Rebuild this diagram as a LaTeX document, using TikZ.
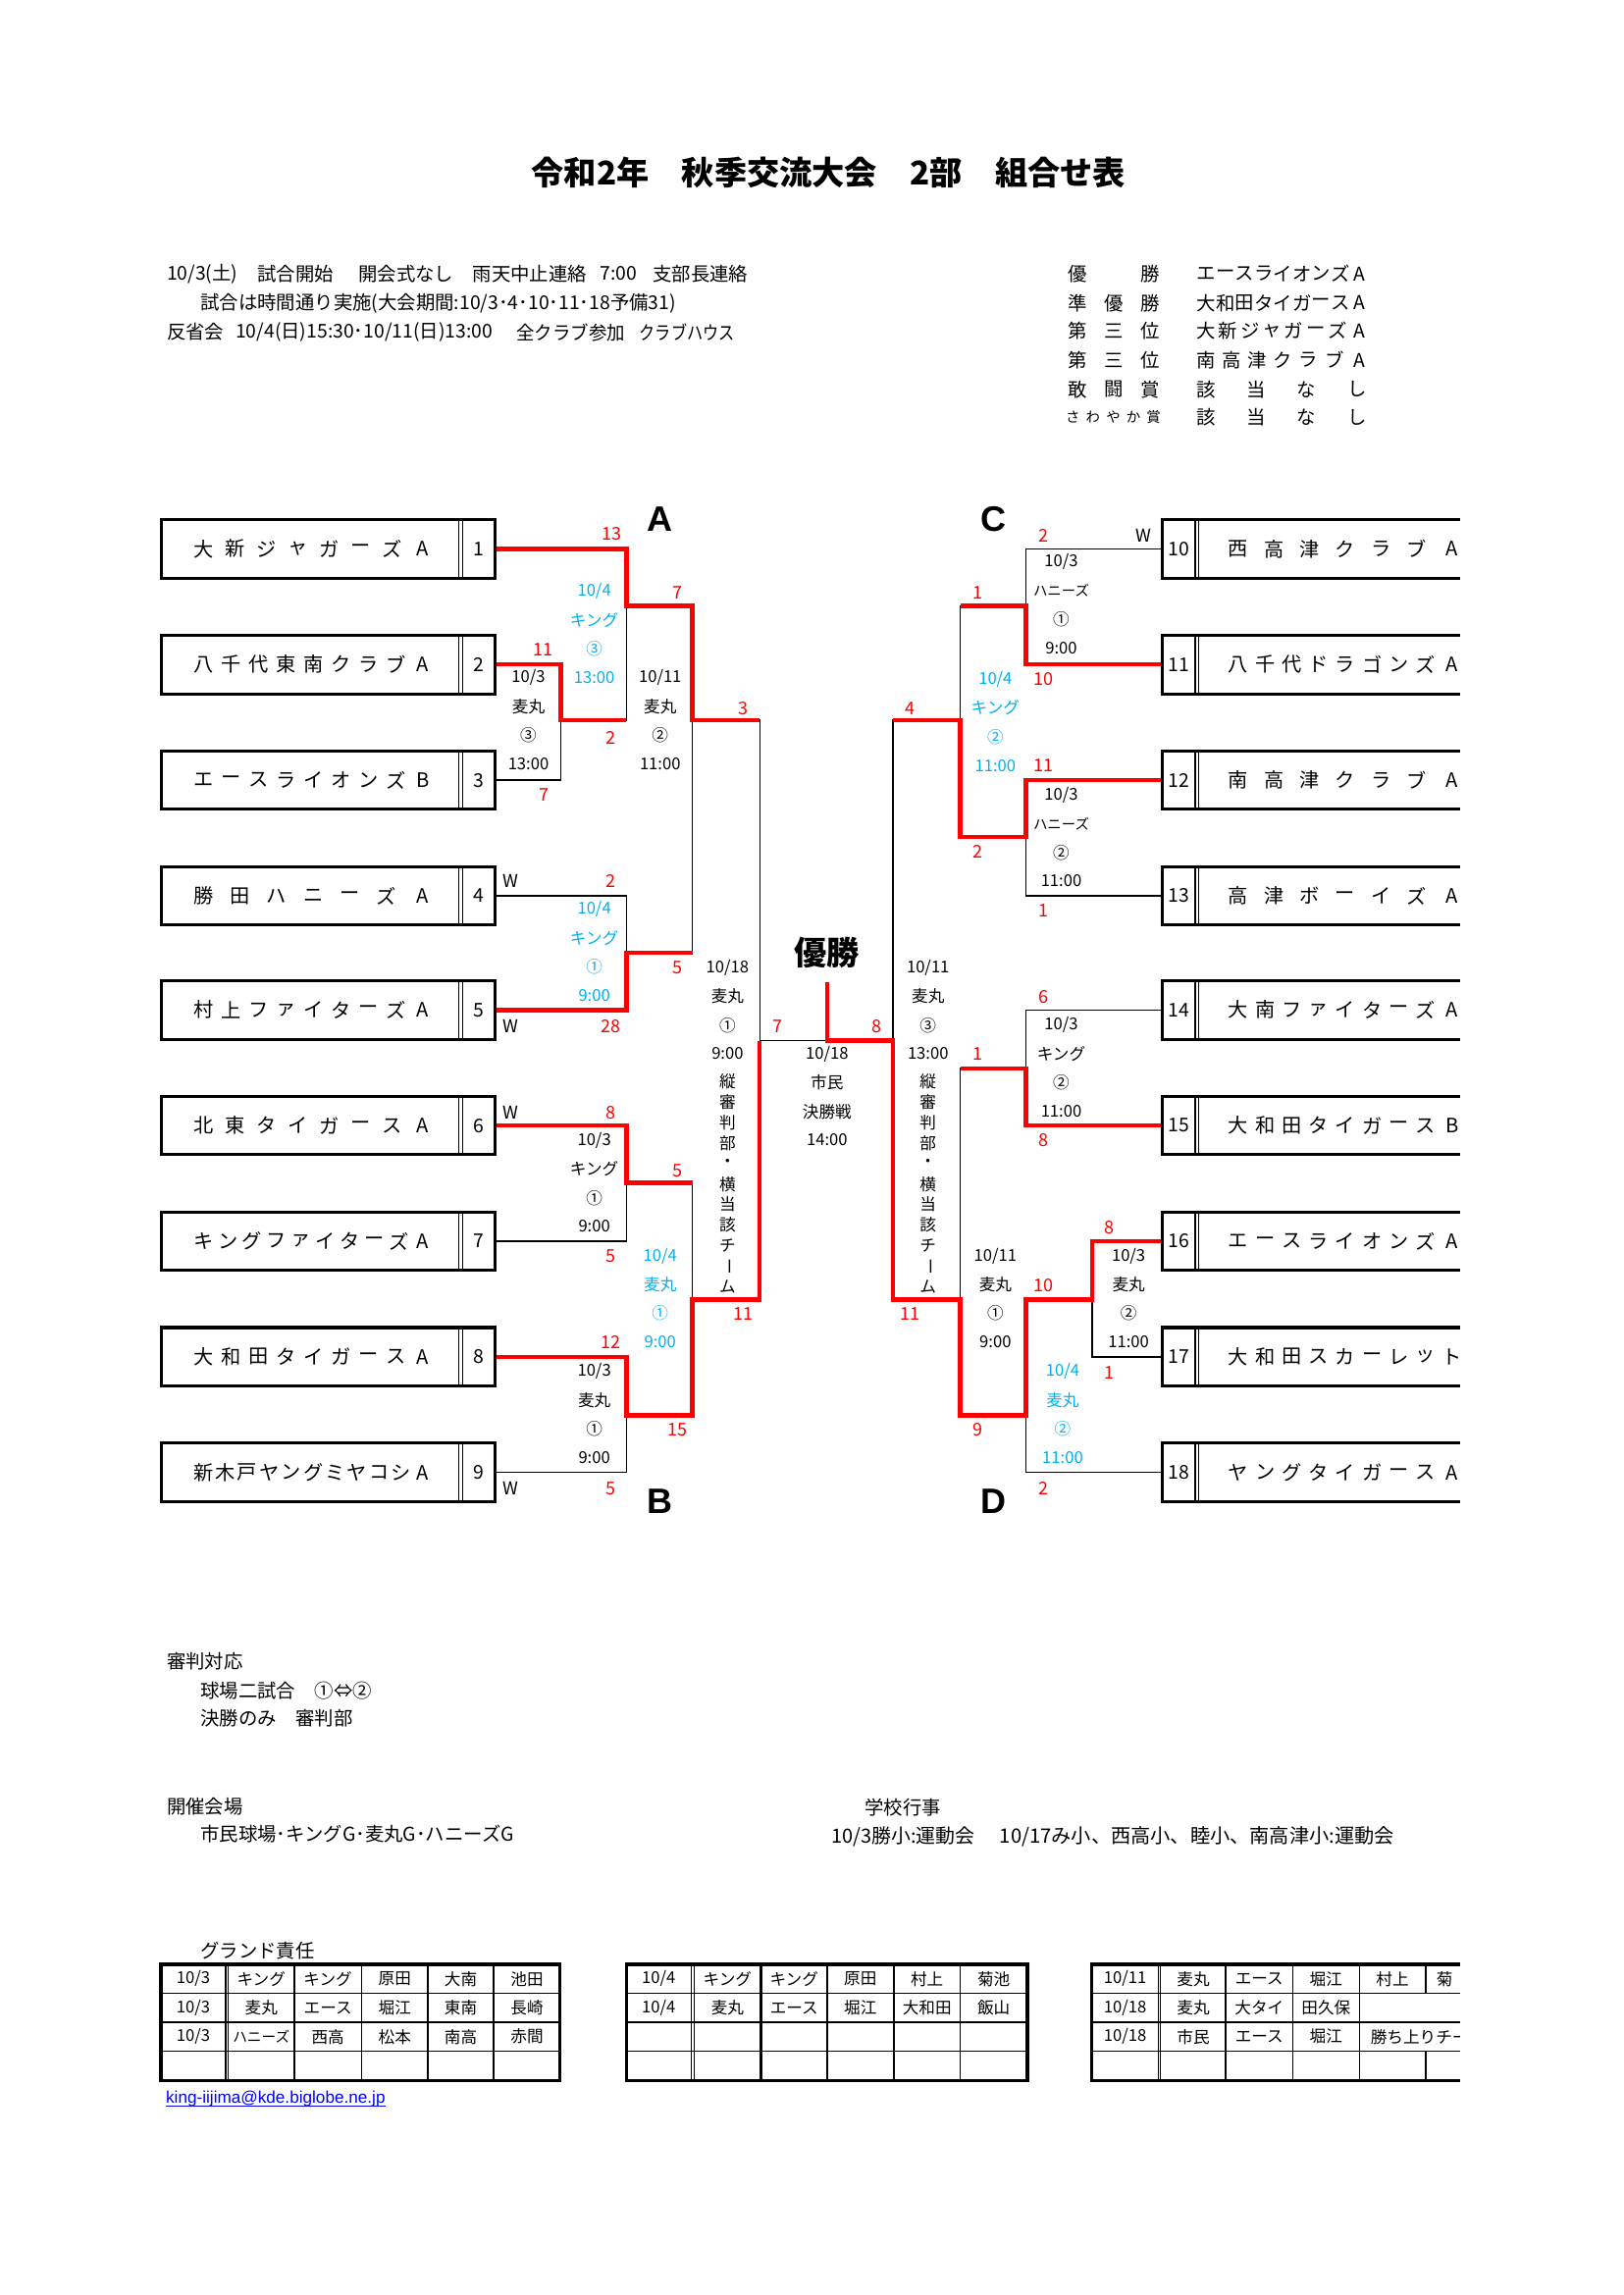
\documentclass[tikz,border=0pt]{standalone}
\usepackage{fontspec}
\setmainfont{Noto Sans CJK JP}
\newfontfamily\lat{Liberation Sans}
\definecolor{myred}{RGB}{255,0,0}
\definecolor{myblue}{RGB}{0,176,240}
\definecolor{linkblue}{RGB}{0,0,255}
\newcommand\fs[1]{\fontsize{#1}{#1}\selectfont}
\newcommand\distr[6]{\foreach \ch [count=\ii] in {#6}{\pgfmathsetmacro\xx{#1+(\ii-1)*(#2-#1)/(#4-1)}\node[#5] (d-\ii-#3) at (\xx,#3) {\ch};}}
\newcommand\lteam[4]{%
 \draw[boxl] (110,#1-20) rectangle (338,#1+20);
 \draw[dbl] (313.5,#1-20)--(313.5,#1+20) (316,#1-20)--(316,#1+20);
 \node[num] (L#2) at (327,#1) {#2};
 \distr{139}{289}{#1}{#3}{nm}{#4}}
\newcommand\rteam[4]{%
 \draw[boxl] (1005,#1-20) -- (794,#1-20) -- (794,#1+20) -- (1005,#1+20);
 \draw[dbl] (816.5,#1-20)--(816.5,#1+20) (819,#1-20)--(819,#1+20);
 \node[num] (R#2) at (805.5,#1) {#2};
 \distr{846}{992}{#1}{#3}{nm}{#4}}
\newcommand\mlab[7]{%
 \node[#3] (m-#1-#2a) at (#1,#2) {#4};
 \node[#3] (m-#1-#2b) at (#1,#2+19.7) {#5};
 \node[#3] (m-#1-#2c) at (#1,#2+39.4) {#6};
 \node[#3] (m-#1-#2d) at (#1,#2+59) {#7};}
\newcommand\vtext[2]{%
 \foreach \ch/\r [count=\ii] in {縦/0,審/0,判/0,部/0,・/0,横/0,当/0,該/0,チ/0,ー/-90,ム/0}{%
  \node[lab,rotate=\r] (v-#1-\ii) at (#1,#2+\ii*14-14) {\ch};}}
\begin{document}
\begin{tikzpicture}[x=0.18936mm,y=-0.18936mm,
  txt/.style={inner sep=0,outer sep=0,font=\fs{7}},
  nm/.style={inner sep=0,font=\fs{7.3}},
  num/.style={inner sep=0,font=\fs{7}},
  lab/.style={inner sep=0,font=\fs{6}},
  labs/.style={inner sep=0,font=\fs{5.2}},
  bl/.style={lab,text=myblue},
  sc/.style={inner sep=0,font=\fs{6.5},text=myred},
  wl/.style={inner sep=0,font=\fs{6.5}},
  tt/.style={inner sep=0,font=\fs{6}},
  thinl/.style={line width=0.5pt,black},
  redl/.style={line width=1.6pt,myred,line join=miter},
  boxl/.style={line width=1.1pt,line join=miter},
  dbl/.style={line width=0.4pt},
  grid/.style={line width=0.5pt},
  outer/.style={line width=1.2pt,line join=miter},
  letter/.style={inner sep=0,font=\lat\bfseries\fontsize{13}{13}\selectfont},
]
\useasboundingbox[fill=white] (0,0) rectangle (1109,1568);

% title
\node[inner sep=0,font=\bfseries\fs{12}] (title) at (566,118) {令和2年　秋季交流大会　2部　組合せ表};

% info lines
\node[txt,anchor=west] (i1a) at (114,187) {10/3(土)};
\node[txt,anchor=west] (i1b) at (176,187) {試合開始};
\node[txt,anchor=west] (i1c) at (245,187) {開会式なし};
\node[txt,anchor=west] (i1d) at (323,187) {雨天中止連絡};
\node[txt,anchor=west] (i1e) at (410,187) {7:00};
\node[txt,anchor=west] (i1f) at (446,187) {支部長連絡};
\node[txt,anchor=west] (i2) at (137,207) {試合は時間通り実施(大会期間:10/3･4･10･11･18予備31)};
\node[txt,anchor=west] (i3a) at (114,227) {反省会};
\node[txt,anchor=west] (i3b) at (161,227) {10/4(日)15:30･10/11(日)13:00};
\node[txt,anchor=west] (i3c) at (353,227) {\scalebox{0.95}[1]{全クラブ参加}};
\node[txt,anchor=west] (i3d) at (437,227) {\scalebox{0.83}[1]{クラブハウス}};

% awards
\distr{736}{786}{187}{2}{txt}{優,勝}
\distr{736}{786}{207}{3}{txt}{準,優,勝}
\distr{736}{786}{226}{3}{txt}{第,三,位}
\distr{736}{786}{246}{3}{txt}{第,三,位}
\distr{736}{786}{266}{3}{txt}{敢,闘,賞}
\distr{733}{788}{285}{5}{labs}{さ,わ,や,か,賞}
\distr{824}{929}{187}{9}{txt}{エ,ー,ス,ラ,イ,オ,ン,ズ,A}
\distr{824}{929}{207}{9}{txt}{大,和,田,タ,イ,ガ,ー,ス,A}
\distr{824}{929}{226}{8}{txt}{大,新,ジ,ャ,ガ,ー,ズ,A}
\distr{824}{929}{246}{7}{txt}{南,高,津,ク,ラ,ブ,A}
\distr{824}{927}{266}{4}{txt}{該,当,な,し}
\distr{824}{927}{285}{4}{txt}{該,当,な,し}

% thin bracket lines
\draw[thinl] (338,375) -- (428,375) -- (428,492) -- (383,492);
\draw[thinl] (338,454) -- (383,454) -- (383,533) -- (338,533);
\draw[thinl] (428,414) -- (473,414) -- (473,651) -- (428,651);
\draw[thinl] (338,612) -- (428,612) -- (428,690) -- (338,690);
\draw[thinl] (473,492) -- (519,492) -- (519,888) -- (473,888);
\draw[thinl] (519,711) -- (565,711);
\draw[thinl] (338,769) -- (428,769) -- (428,848) -- (338,848);
\draw[thinl] (428,808) -- (473,808) -- (473,967) -- (428,967);
\draw[thinl] (338,927) -- (428,927) -- (428,1006) -- (338,1006);
\draw[thinl] (794,375) -- (701,375) -- (701,454) -- (794,454);
\draw[thinl] (701,414) -- (656,414) -- (656,572) -- (701,572);
\draw[thinl] (794,533) -- (701,533) -- (701,612) -- (794,612);
\draw[thinl] (656,492) -- (610,492) -- (610,888) -- (656,888);
\draw[thinl] (610,711) -- (565,711);
\draw[thinl] (794,690) -- (701,690) -- (701,769) -- (794,769);
\draw[thinl] (701,730) -- (656,730) -- (656,967) -- (701,967);
\draw[thinl] (794,848) -- (746,848) -- (746,927) -- (794,927);
\draw[thinl] (746,888) -- (701,888) -- (701,1006) -- (794,1006);

% red winner lines
\draw[redl] (338,375) -- (428,375) -- (428,414) -- (473,414) -- (473,492) -- (519,492);
\draw[redl] (338,454) -- (383,454) -- (383,492) -- (428,492);
\draw[redl] (338,690) -- (428,690) -- (428,651) -- (473,651);
\draw[redl] (338,769) -- (428,769) -- (428,808) -- (473,808);
\draw[redl] (338,927) -- (428,927) -- (428,967) -- (473,967) -- (473,888) -- (519,888) -- (519,711);
\draw[redl] (794,454) -- (701,454) -- (701,414) -- (656,414);
\draw[redl] (794,533) -- (701,533) -- (701,572) -- (656,572) -- (656,492) -- (610,492);
\draw[redl] (794,769) -- (701,769) -- (701,730) -- (656,730);
\draw[redl] (794,848) -- (746,848) -- (746,888) -- (701,888) -- (701,967) -- (656,967) -- (656,888) -- (610,888) -- (610,711) -- (565,711) -- (565,671);

% left teams
\lteam{375}{1}{8}{大,新,ジ,ャ,ガ,ー,ズ,A}
\lteam{454}{2}{9}{八,千,代,東,南,ク,ラ,ブ,A}
\lteam{533}{3}{9}{エ,ー,ス,ラ,イ,オ,ン,ズ,B}
\lteam{612}{4}{7}{勝,田,ハ,ニ,ー,ズ,A}
\lteam{690}{5}{9}{村,上,フ,ァ,イ,タ,ー,ズ,A}
\lteam{769}{6}{8}{北,東,タ,イ,ガ,ー,ス,A}
\lteam{848}{7}{10}{キ,ン,グ,フ,ァ,イ,タ,ー,ズ,A}
\lteam{927}{8}{9}{大,和,田,タ,イ,ガ,ー,ス,A}
\lteam{1006}{9}{11}{新,木,戸,ヤ,ン,グ,ミ,ヤ,コ,シ,A}

% right teams and table 3 (clipped at page content edge)
\begin{scope}
\clip (0,0) rectangle (997.5,1568);
\rteam{375}{10}{7}{西,高,津,ク,ラ,ブ,A}
\rteam{454}{11}{9}{八,千,代,ド,ラ,ゴ,ン,ズ,A}
\rteam{533}{12}{7}{南,高,津,ク,ラ,ブ,A}
\rteam{612}{13}{7}{高,津,ボ,ー,イ,ズ,A}
\rteam{690}{14}{9}{大,南,フ,ァ,イ,タ,ー,ズ,A}
\rteam{769}{15}{9}{大,和,田,タ,イ,ガ,ー,ス,B}
\rteam{848}{16}{9}{エ,ー,ス,ラ,イ,オ,ン,ズ,A}
\rteam{927}{17}{9}{大,和,田,ス,カ,ー,レ,ッ,ト}
\rteam{1006}{18}{9}{ヤ,ン,グ,タ,イ,ガ,ー,ス,A}
% table 3
\draw[grid] (746,1362)--(1005,1362) (746,1381.7)--(1005,1381.7) (746,1401.3)--(1005,1401.3);
\draw[dbl] (791.2,1342)--(791.2,1421.4) (793,1342)--(793,1421.4);
\draw[line width=0.9pt] (837.4,1342)--(837.4,1421.4);
\draw[grid] (883.2,1342)--(883.2,1421.4) (928.6,1342)--(928.6,1421.4);
\draw[grid] (974,1342)--(974,1362) (974,1401.3)--(974,1421.4);
\draw[outer] (1005,1342) -- (746,1342) -- (746,1421.4) -- (1005,1421.4);
\foreach \t [count=\k] in {10/11,麦丸,エース,堀江,村上}{\pgfmathsetmacro\cx{{768.6,815.2,860.3,905.9,951.3}[\k-1]}\node[tt] (t3a\k) at (\cx,1352) {\t};}
\node[tt,anchor=west] (t3a6) at (981,1352) {菊};
\foreach \t [count=\k] in {10/18,麦丸,大タイ,田久保}{\pgfmathsetmacro\cx{{768.6,815.2,860.3,905.9}[\k-1]}\node[tt] (t3b\k) at (\cx,1372) {\t};}
\foreach \t [count=\k] in {10/18,市民,エース,堀江}{\pgfmathsetmacro\cx{{768.6,815.2,860.3,905.9}[\k-1]}\node[tt] (t3c\k) at (\cx,1391.5) {\t};}
\node[tt,anchor=west] (t3c5) at (936,1391.5) {勝ち上りチー};
\end{scope}

% scores and W marks
\node[sc] (s1) at (418,365) {13};
\node[sc] (s2) at (371,444) {11};
\node[sc] (s3) at (372,543) {7};
\node[sc] (s4) at (417,504) {2};
\node[sc] (s5) at (463,405) {7};
\node[sc] (s6) at (508,484) {3};
\node[wl] (w4) at (349,602) {W};
\node[sc] (s7) at (417,602) {2};
\node[wl] (w5) at (349,701) {W};
\node[sc] (s8) at (417,701) {28};
\node[sc] (s9) at (463,661) {5};
\node[wl] (w6) at (349,760) {W};
\node[sc] (s10) at (417,760) {8};
\node[sc] (s11) at (417,858) {5};
\node[sc] (s12) at (463,800) {5};
\node[sc] (s13) at (417,917) {12};
\node[wl] (w9) at (349,1017) {W};
\node[sc] (s14) at (417,1017) {5};
\node[sc] (s15) at (463,977) {15};
\node[sc] (s16) at (508,898) {11};
\node[sc] (s17) at (531,701) {7};
\node[sc] (s18) at (599,701) {8};
\node[sc] (r1) at (713,366) {2};
\node[wl] (w10) at (781,366) {W};
\node[sc] (r2) at (713,464) {10};
\node[sc] (r3) at (668,405) {1};
\node[sc] (r4) at (713,523) {11};
\node[sc] (r5) at (713,622) {1};
\node[sc] (r6) at (668,582) {2};
\node[sc] (r7) at (622,484) {4};
\node[sc] (r8) at (713,681) {6};
\node[sc] (r9) at (713,779) {8};
\node[sc] (r10) at (668,720) {1};
\node[sc] (r11) at (758,839) {8};
\node[sc] (r12) at (758,938) {1};
\node[sc] (r13) at (713,878) {10};
\node[sc] (r14) at (713,1017) {2};
\node[sc] (r15) at (668,977) {9};
\node[sc] (r16) at (622,898) {11};

% match labels
\mlab{361}{463}{lab}{10/3}{麦丸}{③}{13:00}
\mlab{406}{404}{bl}{10/4}{キング}{③}{13:00}
\mlab{451}{463}{lab}{10/11}{麦丸}{②}{11:00}
\mlab{406}{621}{bl}{10/4}{キング}{①}{9:00}
\mlab{406}{779}{lab}{10/3}{キング}{①}{9:00}
\mlab{406}{937}{lab}{10/3}{麦丸}{①}{9:00}
\mlab{451}{858}{bl}{10/4}{麦丸}{①}{9:00}
\mlab{497}{661}{lab}{10/18}{麦丸}{①}{9:00}
\vtext{497}{739}
\mlab{565}{720}{lab}{10/18}{市民}{決勝戦}{14:00}
\mlab{725}{384}{lab}{10/3}{\fs{5.2}ハニーズ}{①}{9:00}
\mlab{725}{543}{lab}{10/3}{\fs{5.2}ハニーズ}{②}{11:00}
\mlab{680}{464}{bl}{10/4}{キング}{②}{11:00}
\mlab{634}{661}{lab}{10/11}{麦丸}{③}{13:00}
\vtext{634}{739}
\mlab{725}{700}{lab}{10/3}{キング}{②}{11:00}
\mlab{771}{858}{lab}{10/3}{麦丸}{②}{11:00}
\mlab{726}{937}{bl}{10/4}{麦丸}{②}{11:00}
\mlab{680}{858}{lab}{10/11}{麦丸}{①}{9:00}

% block letters and champion
\node[letter] (lA) at (451,355) {A};
\node[letter] (lB) at (451,1026) {B};
\node[letter] (lC) at (679,355) {C};
\node[letter] (lD) at (679,1026) {D};
\node[inner sep=0,font=\bfseries\fs{12}] (champ) at (565,651) {優勝};

% bottom notes
\node[txt,anchor=west] (n1) at (114,1135) {審判対応};
\node[txt,anchor=west] (n2) at (137,1155) {球場二試合　①⇔②};
\node[txt,anchor=west] (n3) at (137,1174) {決勝のみ　審判部};
\node[txt,anchor=west] (n4) at (114,1234) {開催会場};
\node[txt,anchor=west] (n5) at (137,1253) {市民球場･キングG･麦丸G･ハニーズG};
\node[txt,anchor=west] (n6) at (591,1235) {学校行事};
\node[txt,anchor=west,font=\fs{7.2}] (n7a) at (568,1255) {10/3勝小:運動会};
\node[txt,anchor=west,font=\fs{7.3}] (n7b) at (683,1255) {10/17み小、西高小、睦小、南高津小:運動会};
\node[txt,anchor=west] (n8) at (137,1333) {グランド責任};

% table 1
\draw[grid] (110,1362)--(382.6,1362) (110,1381.7)--(382.6,1381.7) (110,1401.3)--(382.6,1401.3);
\draw[dbl] (154.2,1342)--(154.2,1421.4) (156,1342)--(156,1421.4);
\draw[line width=0.9pt] (201,1342)--(201,1421.4);
\draw[grid] (247,1342)--(247,1421.4) (292.3,1342)--(292.3,1421.4) (337.3,1342)--(337.3,1421.4);
\draw[outer] (110,1342) rectangle (382.6,1421.4);
\foreach \t [count=\k] in {10/3,キング,キング,原田,大南,池田}{\pgfmathsetmacro\cx{{132.1,178.5,224,269.7,314.8,360}[\k-1]}\node[tt] (t1a\k) at (\cx,1352) {\t};}
\foreach \t [count=\k] in {10/3,麦丸,エース,堀江,東南,長崎}{\pgfmathsetmacro\cx{{132.1,178.5,224,269.7,314.8,360}[\k-1]}\node[tt] (t1b\k) at (\cx,1372) {\t};}
\foreach \t [count=\k] in {10/3,{\fs{5.3}ハニーズ},西高,松本,南高,赤間}{\pgfmathsetmacro\cx{{132.1,178.5,224,269.7,314.8,360}[\k-1]}\node[tt] (t1c\k) at (\cx,1391.5) {\t};}

% table 2
\draw[grid] (428,1362)--(701.8,1362) (428,1381.7)--(701.8,1381.7) (428,1401.3)--(701.8,1401.3);
\draw[dbl] (472,1342)--(472,1421.4) (474.2,1342)--(474.2,1421.4);
\draw[line width=0.9pt] (520,1342)--(520,1421.4);
\draw[grid] (565,1342)--(565,1421.4) (610.6,1342)--(610.6,1421.4) (656,1342)--(656,1421.4);
\draw[outer] (428,1342) rectangle (701.8,1421.4);
\foreach \t [count=\k] in {10/4,キング,キング,原田,村上,菊池}{\pgfmathsetmacro\cx{{450,497,542.5,587.8,633.3,678.9}[\k-1]}\node[tt] (t2a\k) at (\cx,1352) {\t};}
\foreach \t [count=\k] in {10/4,麦丸,エース,堀江,大和田,飯山}{\pgfmathsetmacro\cx{{450,497,542.5,587.8,633.3,678.9}[\k-1]}\node[tt] (t2b\k) at (\cx,1372) {\t};}

% e-mail link
\node[inner sep=0,anchor=base west,font=\lat\fs{6.2},text=linkblue] (mail) at (113,1437) {king-iijima@kde.biglobe.ne.jp};
\draw[linkblue,line width=0.4pt] ([yshift=-0.9pt]mail.base west) -- ([yshift=-0.9pt]mail.base east);
\end{tikzpicture}
\end{document}
